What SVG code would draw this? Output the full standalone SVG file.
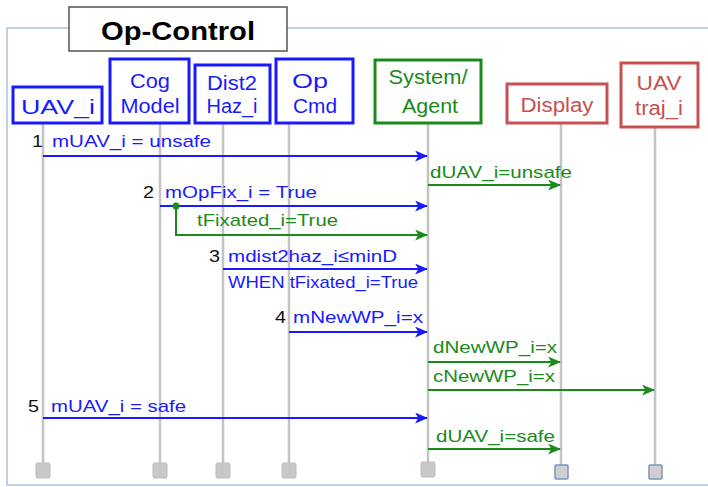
<svg xmlns="http://www.w3.org/2000/svg" width="708" height="487" viewBox="0 0 708 487">
<defs>
<style>
text{font-family:"Liberation Sans",Arial,sans-serif}
.nb{fill:#fff;stroke:#1a1aff;stroke-width:3}
.ng{fill:#fff;stroke:#1a8a1a;stroke-width:3}
.nr{fill:#fff;stroke:#c85050;stroke-width:3}
.tb{fill:#1a1aff;font-size:20px;text-anchor:middle}
.tg{fill:#1a8a1a;font-size:20px;text-anchor:middle}
.tr{fill:#c85050;font-size:20px;text-anchor:middle}
.life{stroke:#c4c4c4;stroke-width:2.5}
.end{fill:#c8c8c8;stroke:#bdbdbd;stroke-width:1}
.end2{fill:#cfcfcf;stroke:#7b95c0;stroke-width:1.5}
.mb{stroke:#1a1aff;stroke-width:2;fill:none;marker-end:url(#ab)}
.mg{stroke:#1a8a1a;stroke-width:2;fill:none;marker-end:url(#ag)}
.lb{fill:#1a1aff;font-size:17px}
.lg{fill:#1a8a1a;font-size:17px}
.num{fill:#111;font-size:17px}
</style>
<marker id="ab" viewBox="0 0 12 10" refX="11" refY="5" markerWidth="13" markerHeight="11" markerUnits="userSpaceOnUse" orient="auto"><path d="M0,0 L12,5 L0,10 L3,5 Z" fill="#1a1aff"/></marker>
<marker id="ag" viewBox="0 0 12 10" refX="11" refY="5" markerWidth="13" markerHeight="11" markerUnits="userSpaceOnUse" orient="auto"><path d="M0,0 L12,5 L0,10 L3,5 Z" fill="#1a8a1a"/></marker>
</defs>
<rect x="0" y="0" width="708" height="487" fill="#fff"/>
<rect id="frame" x="7" y="28" width="720" height="457" fill="none" stroke="#a9c3df" stroke-width="1.5"/>
<g id="title">
<rect x="69" y="7" width="218" height="44" fill="#fff" stroke="#555" stroke-width="1.5"/>
<text x="178" y="40" font-size="26" font-weight="bold" text-anchor="middle" textLength="154" lengthAdjust="spacingAndGlyphs" fill="#000">Op-Control</text>
</g>
<g id="lifelines">
<line class="life" x1="43" y1="123" x2="43" y2="466"/>
<line class="life" x1="160" y1="123" x2="160" y2="466"/>
<line class="life" x1="223" y1="123" x2="223" y2="466"/>
<line class="life" x1="289" y1="123" x2="289" y2="466"/>
<line class="life" x1="428" y1="123" x2="428" y2="466"/>
<line class="life" x1="561" y1="123" x2="561" y2="466"/>
<line class="life" x1="655" y1="127" x2="655" y2="466"/>
<rect class="end" x="36" y="463" width="14" height="15" rx="1.5"/>
<rect class="end" x="153" y="463" width="14" height="15" rx="1.5"/>
<rect class="end" x="216" y="463" width="14" height="15" rx="1.5"/>
<rect class="end" x="282" y="463" width="14" height="15" rx="1.5"/>
<rect class="end" x="421" y="462" width="14" height="15" rx="1.5"/>
<rect class="end2" x="555" y="465" width="13" height="14" rx="1"/>
<rect class="end2" x="649" y="465" width="13" height="14" rx="1"/>
</g>
<g id="UAV_i"><rect class="nb" x="13" y="87" width="89" height="36"/><text class="tb" x="58" y="114" textLength="74" lengthAdjust="spacingAndGlyphs">UAV_i</text></g>
<g id="CogModel"><rect class="nb" x="110" y="59" width="79" height="64"/><text class="tb" x="150" y="88" textLength="40" lengthAdjust="spacingAndGlyphs">Cog</text><text class="tb" x="150" y="113" textLength="59" lengthAdjust="spacingAndGlyphs">Model</text></g>
<g id="Dist2Haz_i"><rect class="nb" x="195" y="65" width="75" height="58"/><text class="tb" x="232" y="90" font-size="18" textLength="50" lengthAdjust="spacingAndGlyphs">Dist2</text><text class="tb" x="232" y="113" font-size="18" textLength="51" lengthAdjust="spacingAndGlyphs">Haz_i</text></g>
<g id="OpCmd"><rect class="nb" x="276" y="59" width="77" height="64"/><text class="tb" x="310" y="88" textLength="36" lengthAdjust="spacingAndGlyphs">Op</text><text class="tb" x="315" y="113" textLength="44" lengthAdjust="spacingAndGlyphs">Cmd</text></g>
<g id="SystemAgent"><rect class="ng" x="375" y="60" width="106" height="63"/><text class="tg" x="428" y="84" textLength="79" lengthAdjust="spacingAndGlyphs">System/</text><text class="tg" x="430" y="113" textLength="56" lengthAdjust="spacingAndGlyphs">Agent</text></g>
<g id="Display"><rect class="nr" x="507" y="84" width="100" height="39"/><text class="tr" x="557" y="112" textLength="73" lengthAdjust="spacingAndGlyphs">Display</text></g>
<g id="UAVtraj_i"><rect class="nr" x="621" y="63" width="77" height="64"/><text class="tr" x="659" y="90" textLength="45" lengthAdjust="spacingAndGlyphs">UAV</text><text class="tr" x="659" y="115" textLength="48" lengthAdjust="spacingAndGlyphs">traj_i</text></g>
<g id="connectors">
<line class="mb" x1="43" y1="156" x2="427" y2="156"/>
<line class="mg" x1="428" y1="185" x2="560" y2="185"/>
<line class="mb" x1="160" y1="206" x2="427" y2="206"/>
<polyline class="mg" points="176,206 176,235 427,235"/>
<circle cx="176" cy="206" r="3.5" fill="#1a8a1a"/>
<line class="mb" x1="223" y1="269" x2="427" y2="269"/>
<line class="mb" x1="289" y1="332" x2="427" y2="332"/>
<line class="mg" x1="428" y1="362" x2="560" y2="362"/>
<line class="mg" x1="428" y1="390" x2="654" y2="390"/>
<line class="mb" x1="43" y1="418" x2="427" y2="418"/>
<line class="mg" x1="428" y1="449" x2="560" y2="449"/>
</g>
<g id="labels">
<text class="num" x="32" y="147" textLength="11" lengthAdjust="spacingAndGlyphs">1</text>
<text class="lb" x="52" y="147" textLength="159" lengthAdjust="spacingAndGlyphs">mUAV_i = unsafe</text>
<text class="lg" x="430" y="178" textLength="142" lengthAdjust="spacingAndGlyphs">dUAV_i=unsafe</text>
<text class="num" x="143" y="198" textLength="11" lengthAdjust="spacingAndGlyphs">2</text>
<text class="lb" x="165" y="198" textLength="152" lengthAdjust="spacingAndGlyphs">mOpFix_i = True</text>
<text class="lg" x="197" y="226" textLength="141" lengthAdjust="spacingAndGlyphs">tFixated_i=True</text>
<text class="num" x="209" y="262" textLength="11" lengthAdjust="spacingAndGlyphs">3</text>
<text class="lb" x="228" y="262" textLength="169" lengthAdjust="spacingAndGlyphs">mdist2haz_i≤minD</text>
<text class="lb" x="228" y="288" font-size="15.5" textLength="190" lengthAdjust="spacingAndGlyphs">WHEN tFixated_i=True</text>
<text class="num" x="275" y="323" textLength="11" lengthAdjust="spacingAndGlyphs">4</text>
<text class="lb" x="293" y="323" textLength="130" lengthAdjust="spacingAndGlyphs">mNewWP_i=x</text>
<text class="lg" x="433" y="353" textLength="124" lengthAdjust="spacingAndGlyphs">dNewWP_i=x</text>
<text class="lg" x="433" y="382" textLength="122" lengthAdjust="spacingAndGlyphs">cNewWP_i=x</text>
<text class="num" x="28" y="412" textLength="11" lengthAdjust="spacingAndGlyphs">5</text>
<text class="lb" x="51" y="412" textLength="135" lengthAdjust="spacingAndGlyphs">mUAV_i = safe</text>
<text class="lg" x="436" y="442" textLength="119" lengthAdjust="spacingAndGlyphs">dUAV_i=safe</text>
</g>
</svg>
